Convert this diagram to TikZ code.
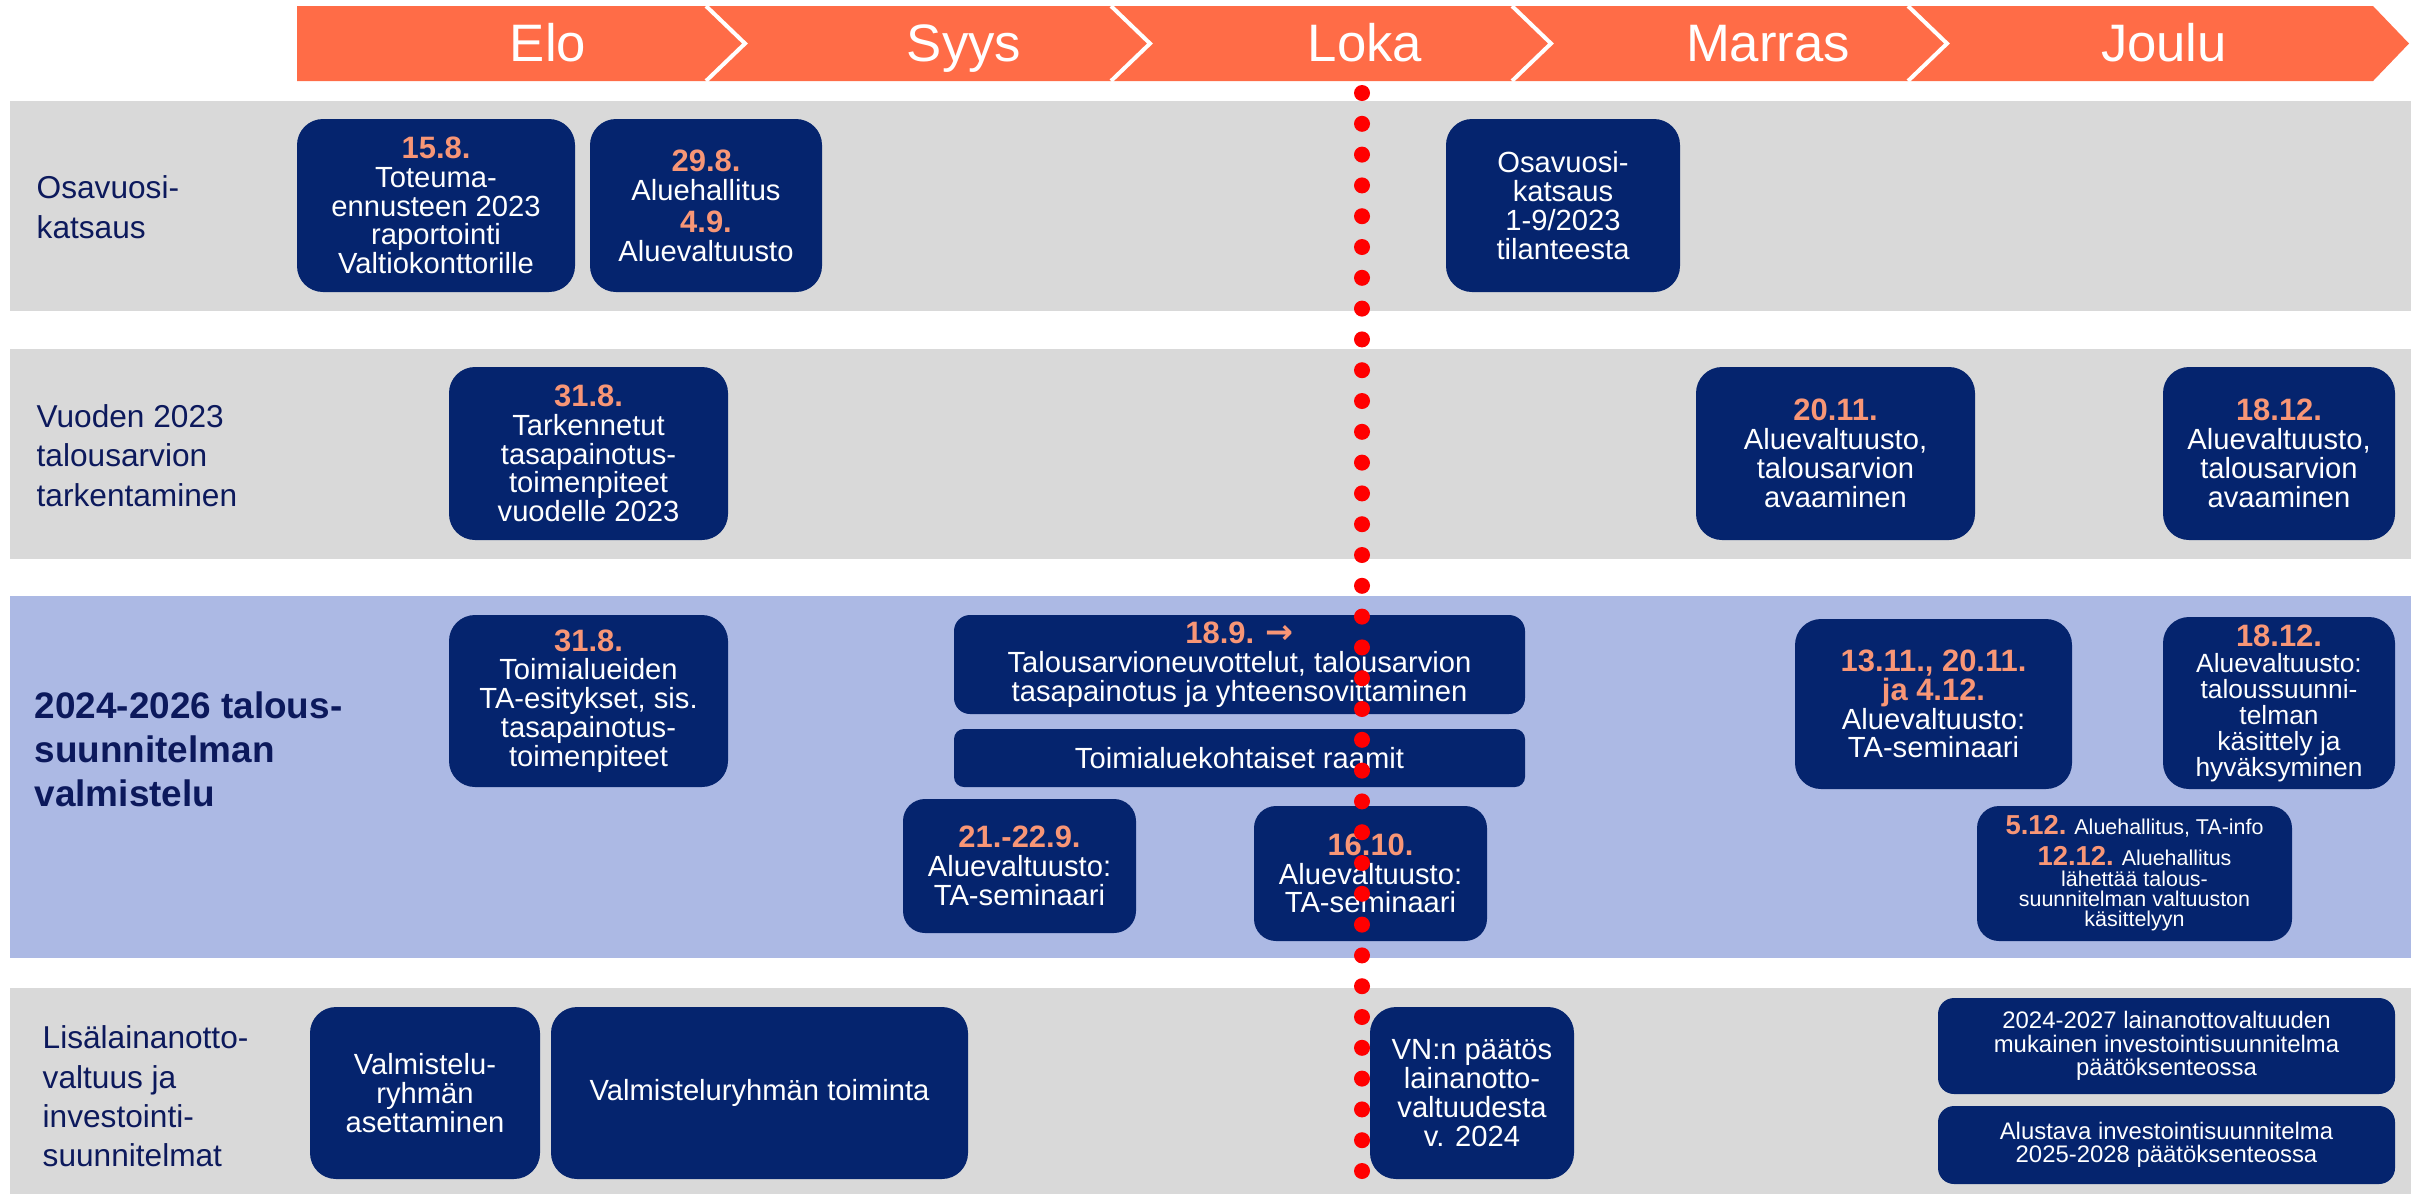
\documentclass[tikz,border=0pt]{standalone}
\usepackage{fontspec}
\setmainfont{Liberation Sans}
\newfontfamily\nuoli{DejaVu Sans}
\definecolor{oranssi}{RGB}{255,108,71}
\definecolor{laivasto}{RGB}{5,36,110}
\definecolor{lohi}{RGB}{248,150,118}
\definecolor{harmaa}{RGB}{217,217,217}
\definecolor{sini}{RGB}{172,185,228}
\definecolor{tumma}{RGB}{12,25,92}
\newcommand{\pvm}[1]{{\color{lohi}\bfseries\fontsize{8.8}{8.2}\selectfont #1}}
\newcommand{\pvmpieni}[1]{{\color{lohi}\bfseries\fontsize{7.8}{7}\selectfont #1}}

\begin{document}
\begin{tikzpicture}[x=0.1mm,y=-0.1mm,
  kk/.style={anchor=base,text=white,font=\fontsize{15}{18}\selectfont},
  rivi/.style={anchor=west,align=left,inner sep=0pt,text=tumma,font=\fontsize{9}{11.2}\selectfont},
  box/.style={fill=laivasto,text=white,rounded corners=2.6mm,align=center,inner sep=0pt,font=\fontsize{8.3}{8.2}\selectfont},
  pieni/.style={font=\fontsize{6.8}{6.7}\selectfont,rounded corners=1.6mm},
  pisteet/.style={red,line width=1.6mm,line cap=round,dash pattern=on 0pt off 3.08mm}]
\useasboundingbox (0,0) rectangle (2428,1196);
\fill[oranssi] (297,6) -- (2373,6) -- (2409,43.5) -- (2373,81) -- (297,81) -- cycle;
\foreach \x in {706,1111,1512,1908}
  \draw[white,line width=0.4mm] (\x,6) -- (\x+39,43.5) -- (\x,81);
\node[kk] (elo) at (548,61) {Elo};
\node[kk] (syys) at (964,61) {Syys};
\node[kk] (loka) at (1365,61) {Loka};
\node[kk] (marras) at (1768,61) {Marras};
\node[kk] (joulu) at (2164,61) {Joulu};

\fill[harmaa] (10,101) rectangle (2411,311);
\fill[harmaa] (10,349) rectangle (2411,559);
\fill[sini] (10,596) rectangle (2411,958);
\fill[harmaa] (10,988) rectangle (2411,1194);

\node[rivi] (osavuosi) at (36,207) {Osavuosi-\\katsaus};
\node[rivi] (tarkennus) at (36,455.5) {Vuoden 2023\\talousarvion\\tarkentaminen};
\node[rivi,font=\fontsize{10.5}{12.5}\selectfont\bfseries] (suunnitelma) at (34,749) {2024-2026 talous-\\suunnitelman\\valmistelu};
\node[rivi] (laina) at (42,1096.5) {Lisälainanotto-\\valtuus ja\\investointi-\\suunnitelmat};

\node[box,minimum width=27.8mm,minimum height=17.3mm] (toteuma) at (436,205.5) {\pvm{15.8.}\\Toteuma-\\ennusteen 2023\\raportointi\\Valtiokonttorille};
\node[box,minimum width=23.2mm,minimum height=17.3mm] (ah) at (706,205.5) {\pvm{29.8.}\\Aluehallitus\\[1pt]\pvm{4.9.}\\Aluevaltuusto};
\node[box,minimum width=23.4mm,minimum height=17.3mm] (katsaus) at (1563,205.5) {Osavuosi-\\katsaus\\1-9/2023\\tilanteesta};

\node[box,minimum width=27.9mm,minimum height=17.3mm] (tark) at (588.5,453.5) {\pvm{31.8.}\\Tarkennetut\\tasapainotus-\\toimenpiteet\\vuodelle 2023};
\node[box,minimum width=27.9mm,minimum height=17.3mm] (avaus1) at (1835.5,453.5) {\pvm{20.11.}\\Aluevaltuusto,\\talousarvion\\avaaminen};
\node[box,minimum width=23.2mm,minimum height=17.3mm] (avaus2) at (2279,453.5) {\pvm{18.12.}\\Aluevaltuusto,\\talousarvion\\avaaminen};

\node[box,minimum width=27.9mm,minimum height=17.2mm] (esitys) at (588.5,701) {\pvm{31.8.}\\Toimialueiden\\TA-esitykset, sis.\\tasapainotus-\\toimenpiteet};
\node[box,minimum width=57.1mm,minimum height=9.9mm,rounded corners=1.6mm] (neuvottelu) at (1239.5,664.5) {\pvm{18.9. {\nuoli\fontsize{9.5}{8.2}\selectfont →}}\\Talousarvioneuvottelut, talousarvion\\tasapainotus ja yhteensovittaminen};
\node[box,minimum width=57.1mm,minimum height=5.8mm,rounded corners=1mm] (raamit) at (1239.5,758) {Toimialuekohtaiset raamit};
\node[box,minimum width=23.3mm,minimum height=13.4mm,rounded corners=2.2mm] (sem1) at (1019.5,866) {\pvm{21.-22.9.}\\Aluevaltuusto:\\TA-seminaari};
\node[box,minimum width=23.3mm,minimum height=13.5mm,rounded corners=2.2mm] (sem2) at (1370.5,873.5) {\pvm{16.10.}\\Aluevaltuusto:\\TA-seminaari};
\node[box,minimum width=27.7mm,minimum height=17mm] (sem3) at (1933.5,704) {\pvm{13.11., 20.11.}\\\pvm{ja 4.12.}\\Aluevaltuusto:\\TA-seminaari};
\node[box,minimum width=23.2mm,minimum height=17.2mm,font=\fontsize{7.5}{7.4}\selectfont] (hyvaksy) at (2279,703) {\pvm{18.12.}\\Aluevaltuusto:\\taloussuunni-\\telman\\käsittely ja\\hyväksyminen};
\node[box,minimum width=31.5mm,minimum height=13.5mm,rounded corners=2.2mm,font=\fontsize{6.1}{5.8}\selectfont] (info) at (2134.5,873.5) {\pvmpieni{5.12.} Aluehallitus, TA-info\\[1.5pt]\pvmpieni{12.12.} Aluehallitus\\lähettää talous-\\suunnitelman valtuuston\\käsittelyyn};

\node[box,minimum width=23mm,minimum height=17.2mm] (asetus) at (425,1093) {Valmistelu-\\ryhmän\\asettaminen};
\node[box,minimum width=41.7mm,minimum height=17.2mm] (toiminta) at (759.5,1093) {Valmisteluryhmän toiminta};
\node[box,minimum width=20.4mm,minimum height=17.2mm] (vn) at (1472,1093) {VN:n päätös\\lainanotto-\\valtuudesta\\v. 2024};
\node[box,pieni,minimum width=45.7mm,minimum height=9.6mm] (valtuus) at (2166.5,1046) {2024-2027 lainanottovaltuuden\\mukainen investointisuunnitelma\\päätöksenteossa};
\node[box,pieni,minimum width=45.7mm,minimum height=7.8mm] (alustava) at (2166.5,1145) {Alustava investointisuunnitelma\\2025-2028 päätöksenteossa};

\coordinate (viiva1) at (1362,93);
\coordinate (viiva2) at (1362,1175);
\draw[pisteet] (viiva1) -- (viiva2);
\end{tikzpicture}
\end{document}
